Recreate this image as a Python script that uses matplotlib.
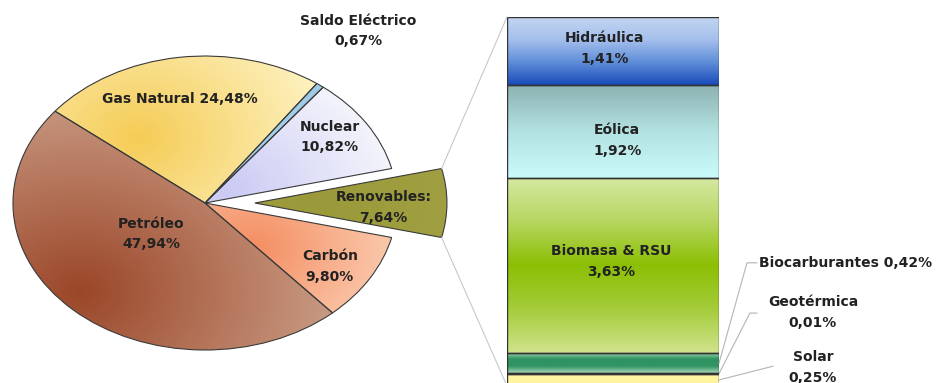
import numpy as np
import matplotlib.pyplot as plt
from matplotlib.colors import LinearSegmentedColormap
from matplotlib.patches import ConnectionPatch

# Consumo de energía primaria por fuentes
pie_names = ["Renovables", "Nuclear", "Saldo Eléctrico", "Gas Natural", "Petróleo", "Carbón"]
pie_values = np.array([7.64, 10.82, 0.67, 24.48, 47.94, 9.80])

# Desglose de renovables (de abajo a arriba)
ren_names = ["Solar", "Geotérmica", "Biocarburantes", "Biomasa & RSU", "Eólica", "Hidráulica"]
ren_values = np.array([0.25, 0.01, 0.42, 3.63, 1.92, 1.41])


def pct(v):
    return f"{v:.2f}".replace(".", ",") + "%"


# (color interior, color exterior, foco, radio) para el degradado de cada sector
pie_fill = {
    "Renovables": ("#9a9a3a", "#a3a346", (0.6, 0.0), 1.0),
    "Nuclear": ("#cacaf4", "#f8f8fd", (0.12, 0.08), 0.95),
    "Saldo Eléctrico": ("#9ccbe6", "#b4d8ee", (0.5, 0.8), 1.0),
    "Gas Natural": ("#f5cc55", "#fdf0bc", (-0.35, 0.45), 0.95),
    "Petróleo": ("#9b4628", "#d0a892", (-0.65, -0.6), 1.55),
    "Carbón": ("#f48e62", "#fcd2b8", (0.25, -0.3), 0.85),
}

# paradas de color del degradado vertical de cada tramo (abajo -> arriba)
bar_fill = {
    "Solar": ["#fff49a", "#fff6a6"],
    "Geotérmica": ["#9ccfb0", "#2e9460"],
    "Biocarburantes": ["#a8d6b8", "#2f9462", "#2f9462", "#a8d6b8"],
    "Biomasa & RSU": ["#d0e38c", "#a4cc3a", "#8cbf04", "#b6d660", "#d6e9a2"],
    "Eólica": ["#cafafa", "#b4e2e2", "#8db2b2"],
    "Hidráulica": ["#1a4bbb", "#5f8ed8", "#a6c0ec", "#c4d6f2"],
}

plt.rcParams.update({
    "font.family": "DejaVu Sans",
    "font.weight": "bold",
    "font.size": 10,
})
text_color = "#222222"
spacing = 1.6

fig = plt.figure(figsize=(9.38, 3.83), dpi=100)

# =========================
# Tarta principal
# =========================
ax = fig.add_axes([0.0036, 0.0094, 0.4913, 0.9211])
start = -pie_values[0] / pie_values.sum() * 360 / 2
explode = [0.26, 0, 0, 0, 0, 0]
wedges, _ = ax.pie(
    pie_values,
    explode=explode,
    startangle=start,
    counterclock=True,
    colors=[pie_fill[n][0] for n in pie_names],
    wedgeprops=dict(edgecolor="#3a3a3a", linewidth=0.8),
)
ax.set_aspect("auto")

xs = np.linspace(-1.1, 1.4, 400)
ys = np.linspace(-1.1, 1.1, 400)
X, Y = np.meshgrid(xs, ys)
for w, name in zip(wedges, pie_names):
    c_in, c_out, (fx, fy), rad = pie_fill[name]
    t = np.clip(np.hypot(X - fx, Y - fy) / rad, 0, 1)
    cmap = LinearSegmentedColormap.from_list(name, [c_in, c_out])
    im = ax.imshow(t, extent=(xs[0], xs[-1], ys[0], ys[-1]), origin="lower",
                   cmap=cmap, vmin=0, vmax=1, aspect="auto",
                   interpolation="bilinear", zorder=1.5)
    im.set_clip_path(w)
    w.set_facecolor("none")
    w.set_zorder(3)

pie_label_pos = {
    "Petróleo": (-0.28, -0.21),
    "Gas Natural": (-0.13, 0.71),
    "Nuclear": (0.65, 0.45),
    "Saldo Eléctrico": (0.80, 1.17),
    "Renovables": (0.93, -0.03),
    "Carbón": (0.65, -0.43),
}
for name, v in zip(pie_names, pie_values):
    if name == "Gas Natural":
        label = f"{name} {pct(v)}"
    elif name == "Renovables":
        label = f"{name}:\n{pct(v)}"
    else:
        label = f"{name}\n{pct(v)}"
    x, y = pie_label_pos[name]
    ax.text(x, y, label, ha="center", va="center", linespacing=spacing,
            color=text_color, fontweight="bold", zorder=5)

ax.set_xlim(-1.05, 1.35)
ax.set_ylim(-1.2, 1.2)
ax.axis("off")

# =========================
# Barra de renovables
# =========================
bx = fig.add_axes([0.5405, -0.0078, 0.226, 0.9634])
bottoms = np.concatenate([[0], np.cumsum(ren_values)[:-1]])
bars = bx.bar(0, ren_values, bottom=bottoms, width=1.0,
              color=[bar_fill[n][0] for n in ren_names],
              edgecolor="#333333", linewidth=1.0)

for rect, name, b, v in zip(bars, ren_names, bottoms, ren_values):
    stops = bar_fill[name]
    cmap = LinearSegmentedColormap.from_list(name, stops)
    grad = np.linspace(0, 1, 200).reshape(-1, 1)
    im = bx.imshow(grad, extent=(-0.5, 0.5, b, b + v), origin="lower",
                   cmap=cmap, aspect="auto", interpolation="bilinear", zorder=1.5)
    im.set_clip_path(rect)
    rect.set_facecolor("none")
    rect.set_zorder(3)

# etiquetas dentro de la barra
inner_offsets = {
    "Hidráulica": (-0.04, 0.05),
    "Eólica": (0.02, -0.19),
    "Biomasa & RSU": (-0.01, 0.08),
}
for name, b, v in zip(ren_names, bottoms, ren_values):
    if name in inner_offsets:
        dx, dy = inner_offsets[name]
        bx.text(dx, b + v / 2 + dy, f"{name}\n{pct(v)}", ha="center", va="center",
                linespacing=spacing, color=text_color, fontweight="bold", zorder=5)

# etiquetas exteriores con línea guía
leader_color = "#b4b4b4"
outer = {
    # nombre: (codo, final, posición del texto, alineación, una línea)
    "Biocarburantes": ((0.632, 2.55), (0.679, 2.55), (0.69, 2.55), "left", True),
    "Geotérmica": ((0.646, 1.51), (0.679, 1.51), (0.943, 1.52), "center", False),
    "Solar": ((0.755, 0.41), (0.755, 0.41), (0.943, 0.38), "center", False),
}
for name, b, v in zip(ren_names, bottoms, ren_values):
    if name not in outer:
        continue
    knee, end, tpos, ha, one_line = outer[name]
    bx.plot([0.5, knee[0], end[0]], [b + v / 2, knee[1], end[1]],
            color=leader_color, linewidth=0.8, clip_on=False, zorder=2)
    label = f"{name} {pct(v)}" if one_line else f"{name}\n{pct(v)}"
    bx.text(tpos[0], tpos[1], label, ha=ha, va="center", linespacing=spacing,
            color=text_color, fontweight="bold", clip_on=False)

bx.set_xlim(-0.5, 0.5)
bx.set_ylim(0, ren_values.sum())
bx.axis("off")

# líneas que unen el sector de renovables con la barra
ren_w = wedges[0]
cx, cy = ren_w.center
for theta, ybar in [(ren_w.theta2, ren_values.sum()), (ren_w.theta1, 0)]:
    px = cx + ren_w.r * np.cos(np.radians(theta))
    py = cy + ren_w.r * np.sin(np.radians(theta))
    con = ConnectionPatch(xyA=(px, py), coordsA=ax.transData,
                          xyB=(-0.5, ybar), coordsB=bx.transData,
                          color="#c8c8c8", linewidth=0.8, zorder=1)
    fig.add_artist(con)

fig.savefig("out.png", dpi=100)
